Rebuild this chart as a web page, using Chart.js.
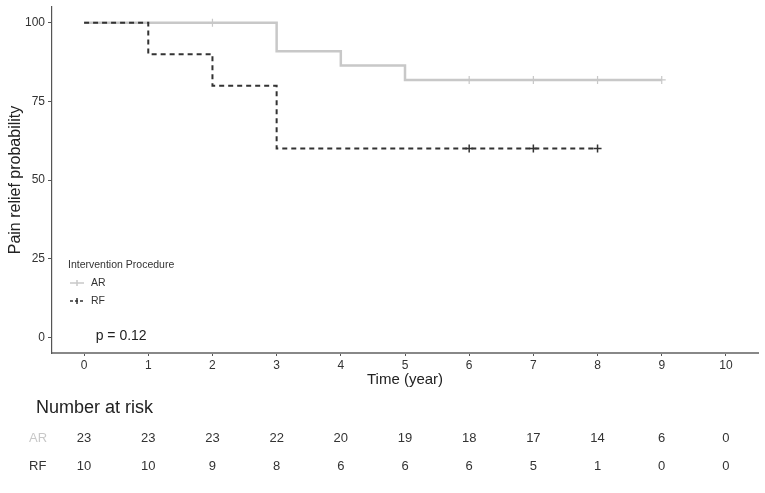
<!DOCTYPE html>
<html>
<head>
<meta charset="utf-8">
<script src="https://cdn.jsdelivr.net/npm/chart.js@4"></script>
<style>
  html, body { margin: 0; padding: 0; background: #fff; }
  #wrap { width: 765px; height: 493px; }
</style>
</head>
<body>
<div id="wrap"><canvas id="km" width="765" height="493"></canvas></div>
<script>
// survival curves (time in years, probability in %)
const arTimes = [0, 3, 4, 5, 9];
const arSurv = [100, 90.9, 86.4, 81.8, 81.8];
const rfTimes = [0, 1, 2, 3, 8];
const rfSurv = [100, 90, 80, 60, 60];

// censored observations
const arCensorTimes = [2, 6, 7, 8, 9];
const arCensorSurv = [100, 81.8, 81.8, 81.8, 81.8];
const rfCensorTimes = [6, 7, 8];
const rfCensorSurv = [60, 60, 60];

// number at risk table
const riskTimes = [0, 1, 2, 3, 4, 5, 6, 7, 8, 9, 10];
const arRisk = [23, 23, 23, 22, 20, 19, 18, 17, 14, 6, 0];
const rfRisk = [10, 10, 9, 8, 6, 6, 6, 5, 1, 0, 0];

const yTicks = [0, 25, 50, 75, 100];
const pValueText = "p = 0.12";

const arColor = "#c8c8c8";
const rfColor = "#333333";
const font = "'Liberation Sans', Arial, sans-serif";

function toPoints(xs, ys) {
  return xs.map((x, i) => ({ x: x, y: ys[i] }));
}

const extras = {
  id: "extras",
  afterDraw(chart) {
    const ctx = chart.ctx;
    const xs = chart.scales.x;
    const ys = chart.scales.y;
    ctx.save();

    // legend
    ctx.fillStyle = "#333";
    ctx.font = "10.5px " + font;
    ctx.textBaseline = "middle";
    ctx.textAlign = "left";
    ctx.fillText("Intervention Procedure", 68, 265);

    const items = [
      { label: "AR", color: arColor, dash: [], y: 283 },
      { label: "RF", color: rfColor, dash: [3, 2], y: 301 }
    ];
    items.forEach(it => {
      ctx.strokeStyle = it.color;
      ctx.lineWidth = 1.5;
      ctx.setLineDash(it.dash);
      ctx.beginPath();
      ctx.moveTo(70, it.y);
      ctx.lineTo(84, it.y);
      ctx.stroke();
      ctx.setLineDash([]);
      ctx.beginPath();
      ctx.moveTo(77, it.y - 3);
      ctx.lineTo(77, it.y + 3);
      ctx.stroke();
      ctx.fillStyle = "#333";
      ctx.fillText(it.label, 91, it.y);
    });

    // p value
    ctx.font = "14px " + font;
    ctx.fillStyle = "#222";
    ctx.fillText(pValueText, xs.getPixelForValue(0.18), ys.getPixelForValue(0) - 1);

    // number at risk
    ctx.font = "18px " + font;
    ctx.fillStyle = "#222";
    ctx.fillText("Number at risk", 36, 408);

    ctx.font = "13px " + font;
    ctx.fillStyle = arColor;
    ctx.fillText("AR", 29, 438);
    ctx.fillStyle = "#333";
    ctx.fillText("RF", 29, 466);
    ctx.textAlign = "center";
    riskTimes.forEach((t, i) => {
      const px = xs.getPixelForValue(t);
      ctx.fillText(String(arRisk[i]), px, 438);
      ctx.fillText(String(rfRisk[i]), px, 466);
    });
    ctx.restore();
  }
};

new Chart(document.getElementById("km"), {
  type: "scatter",
  data: {
    datasets: [
      {
        label: "AR",
        data: toPoints(arTimes, arSurv),
        showLine: true,
        stepped: true,
        borderColor: arColor,
        borderWidth: 2.5,
        pointRadius: 0,
        order: 4
      },
      {
        label: "RF",
        data: toPoints(rfTimes, rfSurv),
        showLine: true,
        stepped: true,
        borderColor: rfColor,
        borderWidth: 2,
        borderDash: [5, 4],
        pointRadius: 0,
        order: 2
      },
      {
        label: "AR censored",
        data: toPoints(arCensorTimes, arCensorSurv),
        pointStyle: "cross",
        pointRadius: 4,
        borderColor: arColor,
        borderWidth: 1.2,
        order: 3
      },
      {
        label: "RF censored",
        data: toPoints(rfCensorTimes, rfCensorSurv),
        pointStyle: "cross",
        pointRadius: 4,
        borderColor: rfColor,
        borderWidth: 1.5,
        order: 1
      }
    ]
  },
  options: {
    responsive: false,
    animation: false,
    layout: { padding: { top: 7, right: 7, left: 6, bottom: 104 } },
    plugins: {
      legend: { display: false },
      tooltip: { enabled: false }
    },
    scales: {
      x: {
        type: "linear",
        min: -0.5,
        max: 10.5,
        afterBuildTicks: s => { s.ticks = riskTimes.map(v => ({ value: v })); },
        grid: { drawOnChartArea: false, drawTicks: true, tickLength: 3, color: "#555" },
        border: { color: "#888", width: 2 },
        ticks: { color: "#333", font: { family: font, size: 12 }, padding: 2 },
        title: { display: true, text: "Time (year)", color: "#222", font: { family: font, size: 15 }, padding: { top: 0, bottom: 0 } },
        afterFit: s => { s.height = 36; s.paddingLeft = 0; s.paddingRight = 0; }
      },
      y: {
        min: -5,
        max: 105,
        afterBuildTicks: s => { s.ticks = yTicks.map(v => ({ value: v })); },
        grid: { drawOnChartArea: false, drawTicks: true, tickLength: 4, color: "#555" },
        border: { color: "#555", width: 1.2 },
        ticks: { color: "#333", font: { family: font, size: 12 }, padding: 3 },
        title: { display: true, text: "Pain relief probability", color: "#222", font: { family: font, size: 16 }, padding: { top: 0, bottom: 0 } },
        afterFit: s => { s.width = 46; s.paddingTop = 0; s.paddingBottom = 0; }
      }
    }
  },
  plugins: [extras]
});
</script>
</body>
</html>
